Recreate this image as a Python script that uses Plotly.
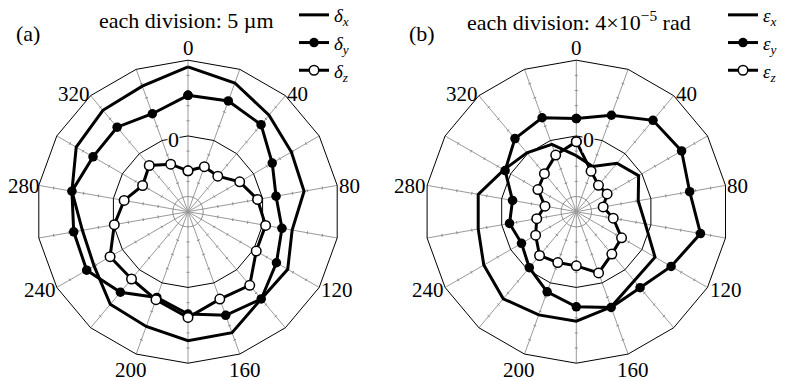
import math
import plotly.graph_objects as go

# ---------------- data ----------------
angles = list(range(0, 360, 20))
categories = [str(a) for a in angles]
label_angles = list(range(0, 360, 40))
label_text = [str(a) for a in label_angles]

# (a) displacement errors, micrometres (each division = 5 um)
delta_x = [22.8, 20.2, 16.6, 14.4, 13.9, 9.9, 13.0, 12.6, 17.5, 17.6, 15.3, 14.9, 10.8, 10.4, 13.9, 17.6, 18.7, 19.1]
delta_y = [13.4, 13.9, 12.5, 7.1, 4.5, 6.5, 8.7, 12.6, 11.4, 8.8, 5.1, 9.7, 13.6, 13.3, 13.9, 11.2, 11.4, 9.4]
delta_z = [-11.5, -9.2, -9.7, -5.3, -1.7, 1.0, 1.0, 6.7, 5.7, 9.9, 5.9, 4.0, 4.7, -0.3, -3.6, -7.7, -5.1, -8.3]

# (b) angular errors, 1e-5 rad (each division = 4e-5 rad)
eps_x = [-5.2, -7.3, -3.3, -1.0, -3.4, -1.5, 4.0, 3.8, 6.8, 8.9, 9.0, 10.0, 8.2, 6.3, 6.3, 2.1, 0.3, -1.1]
eps_y = [4.6, 7.1, 11.5, 12.1, 10.4, 13.3, 8.9, 6.2, 6.9, 5.1, 2.5, -0.7, -3.3, -2.1, -2.9, 1.7, 5.2, 6.4]
eps_z = [-1.5, -8.6, -10.9, -10.6, -12.8, -10.1, -6.2, -5.4, -2.8, -5.7, -5.7, -4.9, -7.6, -9.4, -11.6, -8.3, -6.9, -4.1]

division_a = 5.0
division_b = 4.0
n_div = 10  # divisions from centre to outer ring
range_a = [-25.0, 25.0]
range_b = [-20.0, 20.0]

SERIF = "Liberation Serif"

# page body has an 8px margin; work in screen coords and shift
OFF = 8
W, H = 788 - OFF, 381 - OFF
R = 151.5
CY = 211.7 - OFF
CXA = 188.0 - OFF
CXB = 576.3 - OFF
LAB_SIZE = 21

fig = go.Figure()


def closed(vals):
    return list(vals) + [vals[0]]


def add_panel(overlay, rng, div, series, names, legend):
    # small ring near centre (1 division)
    ring_r = rng[0] + div
    circ = list(range(0, 361, 5))
    fig.add_trace(go.Scatterpolar(
        theta=circ, r=[ring_r] * len(circ),
        mode="lines", line=dict(color="#8a8a8a", width=1),
        subplot=overlay, showlegend=False, hoverinfo="skip"))
    # tick crosses on every spoke
    span = rng[1] - rng[0]
    h = 3.0 * span / (2 * R)  # ~3 px half-length in data units
    ks = [k for k in range(2, n_div) if k != n_div // 2]
    th, rr = [], []
    for a in angles:
        for k in ks:
            rho = k * div
            rho2 = math.hypot(rho, h)
            da = math.degrees(math.atan2(h, rho))
            th += [a - da, a + da, None]
            rr += [rng[0] + rho2, rng[0] + rho2, None]
    fig.add_trace(go.Scatterpolar(
        theta=th, r=rr, mode="lines", connectgaps=False,
        line=dict(color="#8a8a8a", width=1),
        subplot=overlay, showlegend=False, hoverinfo="skip"))
    styles = [
        dict(mode="lines", line=dict(color="black", width=3)),
        dict(mode="lines+markers", line=dict(color="black", width=3),
             marker=dict(symbol="circle", size=9.5, color="black")),
        dict(mode="lines+markers", line=dict(color="black", width=3),
             marker=dict(symbol="circle", size=9.5, color="white",
                         line=dict(color="black", width=1.5))),
    ]
    for vals, name, st in zip(series, names, styles):
        fig.add_trace(go.Scatterpolar(
            theta=closed(angles), r=closed(vals), name=name,
            subplot=overlay, legend=legend, **st))


# invisible dummy traces so the grid subplots are created
for sp in ("polar", "polar2"):
    fig.add_trace(go.Scatterpolar(theta=[categories[0]], r=[0], mode="markers",
                                  marker=dict(opacity=0), subplot=sp,
                                  showlegend=False, hoverinfo="skip"))

add_panel("polar3", range_a, division_a, [delta_x, delta_y, delta_z],
          ["<i>δ</i><sub><i>x</i></sub>", "<i>δ</i><sub><i>y</i></sub>", "<i>δ</i><sub><i>z</i></sub>"],
          "legend")
add_panel("polar4", range_b, division_b, [eps_x, eps_y, eps_z],
          ["<i>ε</i><sub><i>x</i></sub>", "<i>ε</i><sub><i>y</i></sub>", "<i>ε</i><sub><i>z</i></sub>"],
          "legend2")


def dom(cx):
    return dict(x=[(cx - R) / W, (cx + R) / W],
                y=[(H - CY - R) / H, (H - CY + R) / H])


def grid_layout(cx, rng):
    return dict(
        domain=dom(cx),
        gridshape="linear",
        bgcolor="white",
        angularaxis=dict(
            type="category", categoryarray=categories,
            rotation=90, direction="clockwise",
            tickmode="array", tickvals=categories, showticklabels=False,
            showline=True, linecolor="black", linewidth=1,
            showgrid=True, gridcolor="#9a9a9a", gridwidth=1,
            ticks="",
        ),
        radialaxis=dict(
            range=rng, angle=90,
            tickmode="array", tickvals=[0], showticklabels=False,
            showline=False, ticks="",
            showgrid=True, gridcolor="black", gridwidth=1,
        ),
    )


def overlay_layout(cx, rng):
    return dict(
        domain=dom(cx),
        bgcolor="rgba(0,0,0,0)",
        angularaxis=dict(rotation=90, direction="clockwise", visible=False),
        radialaxis=dict(range=rng, visible=False),
    )


def sx(x):
    return (x - OFF) / W


def sy(y):
    return 1 - (y - OFF) / H


txt = dict(family=SERIF, size=22, color="black")
lab = dict(family=SERIF, size=LAB_SIZE, color="black")

annotations = [
    dict(text="each division: 5 µm", x=sx(186), y=sy(20), xanchor="center", yanchor="middle",
         xref="paper", yref="paper", showarrow=False, font=txt),
    dict(text="each division: 4×10<sup>−5</sup> rad", x=sx(579), y=sy(21),
         xanchor="center", yanchor="middle",
         xref="paper", yref="paper", showarrow=False, font=txt),
    dict(text="(a)", x=sx(27.5), y=sy(33), xanchor="center", yanchor="middle",
         xref="paper", yref="paper", showarrow=False, font=txt),
    dict(text="(b)", x=sx(421.5), y=sy(33), xanchor="center", yanchor="middle",
         xref="paper", yref="paper", showarrow=False, font=txt),
    dict(text="0", x=sx(173), y=sy(139), xanchor="center", yanchor="middle",
         xref="paper", yref="paper", showarrow=False, font=txt, bgcolor="white", borderpad=0),
    dict(text="0", x=sx(588), y=sy(139), xanchor="center", yanchor="middle",
         xref="paper", yref="paper", showarrow=False, font=txt, bgcolor="white", borderpad=0),
]

# angular labels placed just outside the outer polygon vertices
for cx_screen in (188.0, 576.3):
    for a, t in zip(label_angles, label_text):
        s, c = math.sin(math.radians(a)), math.cos(math.radians(a))
        vx = cx_screen + R * s
        vy = 211.7 - R * c
        if abs(s) < 0.5:
            xa = "center"
            x = vx + (5 if s > 0.01 else (-5 if s < -0.01 else 0))
            y = vy - 12 if c > 0 else vy + 16
        else:
            xa = "left" if s > 0 else "right"
            if s > 0:
                x = vx + 1
            else:
                x = max(vx, OFF + 0.5 * LAB_SIZE * len(t) + 1)
            y = vy - 4 * c + 1
        annotations.append(dict(text=t, x=sx(x), y=sy(y), xanchor=xa, yanchor="middle",
                                xref="paper", yref="paper", showarrow=False,
                                font=lab, borderpad=0))

fig.update_layout(
    width=W, height=H,
    margin=dict(l=0, r=0, t=0, b=0, autoexpand=False),
    paper_bgcolor="white",
    polar=grid_layout(CXA, range_a),
    polar2=grid_layout(CXB, range_b),
    polar3=overlay_layout(CXA, range_a),
    polar4=overlay_layout(CXB, range_b),
    legend=dict(x=sx(294), y=sy(-4), xanchor="left", yanchor="top",
                font=dict(family=SERIF, size=19, color="black"),
                bgcolor="rgba(0,0,0,0)", itemwidth=30, tracegroupgap=0),
    legend2=dict(x=sx(723), y=sy(-4), xanchor="left", yanchor="top",
                 font=dict(family=SERIF, size=19, color="black"),
                 bgcolor="rgba(0,0,0,0)", itemwidth=30, tracegroupgap=0),
    annotations=annotations,
)

fig.write_html("out.html")
